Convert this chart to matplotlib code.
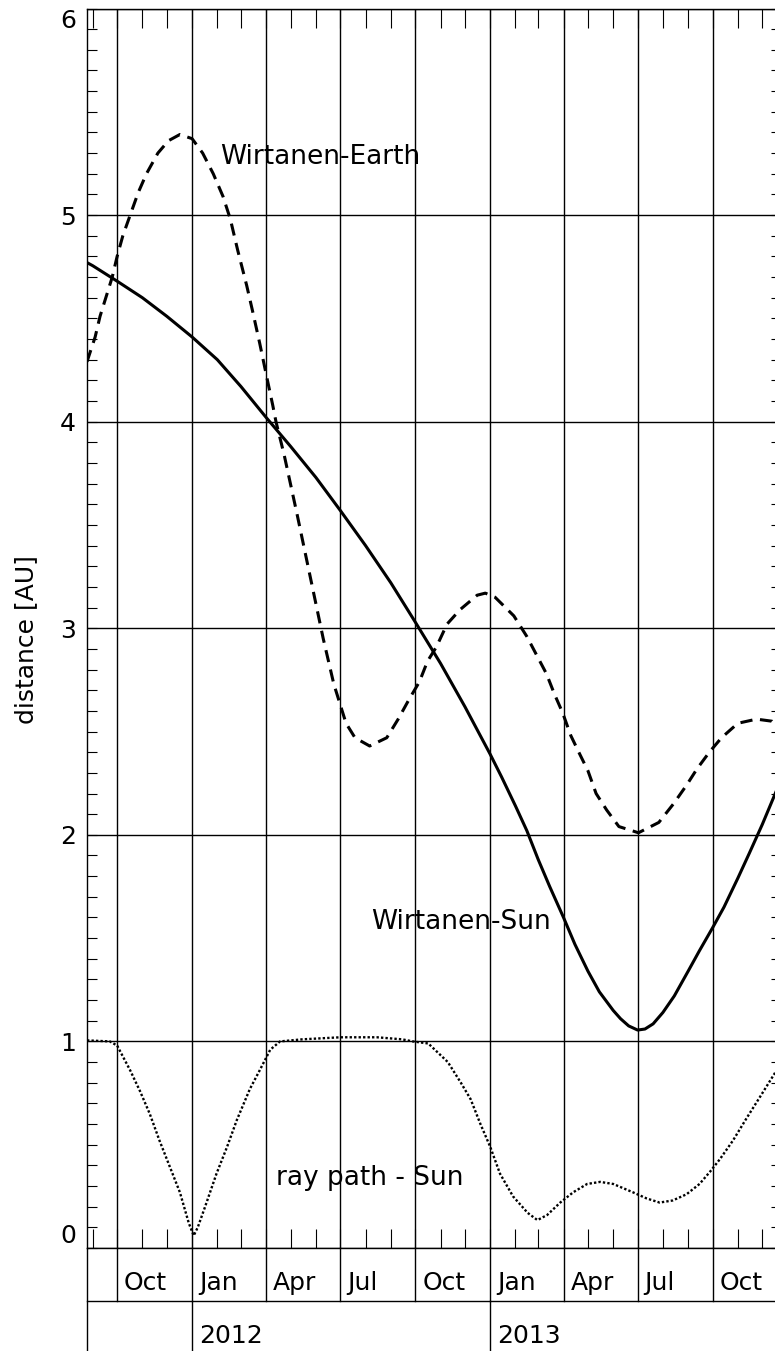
import matplotlib
matplotlib.use("Agg")
import numpy as np
import matplotlib.pyplot as plt
import matplotlib.dates as mdates
import matplotlib.transforms as mtransforms
from matplotlib.ticker import MultipleLocator

# Comet Wirtanen: distances in AU vs date
SUN_DATES = ["2011-08-25", "2011-09-01", "2011-10-01", "2011-11-01", "2011-12-01",
             "2012-01-01", "2012-02-01", "2012-03-01", "2012-04-01", "2012-05-01",
             "2012-06-01", "2012-07-01", "2012-08-01", "2012-09-01", "2012-10-01",
             "2012-11-01", "2012-12-01", "2013-01-01", "2013-01-15", "2013-02-01",
             "2013-02-15", "2013-03-01", "2013-03-15", "2013-04-01", "2013-04-15",
             "2013-05-01", "2013-05-15", "2013-06-01", "2013-06-10", "2013-06-20",
             "2013-07-01", "2013-07-10", "2013-07-20", "2013-08-01", "2013-08-15",
             "2013-09-01", "2013-09-15", "2013-10-01", "2013-10-15", "2013-11-01",
             "2013-11-15", "2013-12-01", "2013-12-18"]
SUN_DIST = [4.77, 4.755, 4.68, 4.60, 4.51,
            4.41, 4.30, 4.17, 4.02, 3.88,
            3.73, 3.57, 3.40, 3.22, 3.03,
            2.83, 2.62, 2.39, 2.28, 2.14,
            2.02, 1.88, 1.75, 1.60, 1.47,
            1.34, 1.24, 1.15, 1.11, 1.075,
            1.055, 1.06, 1.085, 1.14, 1.22,
            1.34, 1.44, 1.55, 1.65, 1.79,
            1.91, 2.05, 2.21]

EARTH_DATES = ["2011-08-25", "2011-09-04", "2011-09-10", "2011-09-25", "2011-10-01",
               "2011-10-08", "2011-10-17", "2011-10-27", "2011-11-06", "2011-11-20",
               "2011-12-03", "2011-12-17", "2012-01-01", "2012-01-14", "2012-01-27",
               "2012-02-08", "2012-02-17", "2012-02-26", "2012-03-08", "2012-03-15",
               "2012-03-24", "2012-04-02", "2012-04-09", "2012-04-13", "2012-04-23",
               "2012-05-09", "2012-05-25", "2012-06-10", "2012-06-23", "2012-07-08",
               "2012-07-19", "2012-08-06", "2012-08-27", "2012-09-10", "2012-09-24",
               "2012-10-06", "2012-10-16", "2012-10-27", "2012-11-09", "2012-11-25",
               "2012-12-16", "2012-12-26", "2013-01-07", "2013-01-30", "2013-02-15",
               "2013-02-27", "2013-03-11", "2013-03-21", "2013-03-31", "2013-04-10",
               "2013-04-21", "2013-05-01", "2013-05-11", "2013-05-24", "2013-06-08",
               "2013-07-02", "2013-07-27", "2013-08-14", "2013-08-30", "2013-09-12",
               "2013-09-27", "2013-10-12", "2013-11-01", "2013-11-24", "2013-12-13",
               "2013-12-18"]
EARTH_DIST = [4.29, 4.41, 4.51, 4.70, 4.80,
              4.90, 5.00, 5.11, 5.20, 5.30,
              5.36, 5.39, 5.37, 5.30, 5.20,
              5.09, 4.98, 4.83, 4.66, 4.54,
              4.38, 4.21, 4.08, 4.00, 3.84,
              3.55, 3.25, 2.95, 2.73, 2.54,
              2.47, 2.43, 2.47, 2.56, 2.66,
              2.74, 2.84, 2.91, 3.02, 3.09,
              3.16, 3.17, 3.15, 3.06, 2.96,
              2.87, 2.78, 2.68, 2.59, 2.48,
              2.39, 2.31, 2.20, 2.12, 2.04,
              2.01, 2.06, 2.15, 2.24, 2.32,
              2.40, 2.47, 2.54, 2.56, 2.55,
              2.53]

RAY_DATES = ["2011-08-25", "2011-09-22", "2011-10-01", "2011-10-17", "2011-10-29",
             "2011-11-10", "2011-11-22", "2011-12-05", "2011-12-17", "2011-12-28",
             "2012-01-03", "2012-01-08", "2012-01-17", "2012-01-31", "2012-02-13",
             "2012-02-25", "2012-03-12", "2012-03-24", "2012-04-06", "2012-04-18",
             "2012-05-15", "2012-07-01", "2012-08-15", "2012-09-15", "2012-09-28",
             "2012-10-17", "2012-11-10", "2012-11-26", "2012-12-08", "2012-12-20",
             "2013-01-01", "2013-01-13", "2013-01-29", "2013-02-16", "2013-02-28",
             "2013-03-12", "2013-03-28", "2013-04-13", "2013-04-30", "2013-05-16",
             "2013-06-01", "2013-06-25", "2013-07-12", "2013-07-28", "2013-08-13",
             "2013-08-30", "2013-09-15", "2013-09-28", "2013-10-10", "2013-10-26",
             "2013-11-12", "2013-11-28", "2013-12-17"]
RAY_DIST = [1.005, 1.00, 0.98, 0.86, 0.76,
            0.65, 0.52, 0.39, 0.27, 0.12,
            0.06, 0.10, 0.20, 0.36, 0.49,
            0.62, 0.77, 0.86, 0.96, 1.00,
            1.01, 1.02, 1.02, 1.01, 1.00,
            0.99, 0.90, 0.80, 0.72, 0.60,
            0.49, 0.36, 0.25, 0.17, 0.135,
            0.16, 0.22, 0.27, 0.31, 0.32,
            0.31, 0.27, 0.24, 0.22, 0.23,
            0.26, 0.31, 0.37, 0.43, 0.52,
            0.63, 0.73, 0.85]

Y_TICKS = [0, 1, 2, 3, 4, 5, 6]
QUARTER_DATES = ["2011-10-01", "2012-01-01", "2012-04-01", "2012-07-01", "2012-10-01",
                 "2013-01-01", "2013-04-01", "2013-07-01", "2013-10-01"]
QUARTER_NAMES = ["Oct", "Jan", "Apr", "Jul", "Oct", "Jan", "Apr", "Jul", "Oct"]
YEAR_DATES = ["2012-01-01", "2013-01-01"]
YEAR_NAMES = ["2012", "2013"]

X_START = "2011-08-25"
X_END = "2013-12-24"

FS = 18


def dates(lst):
    return np.array(lst, dtype="datetime64[D]")


def main():
    fig = plt.figure(figsize=(7.75, 13.51), dpi=100)
    ax = fig.add_axes([87 / 775, 103 / 1351, 694 / 775, 1239.5 / 1351])

    ax.plot(dates(SUN_DATES), SUN_DIST, color="black", lw=2.2,
            solid_joinstyle="round")
    ax.plot(dates(EARTH_DATES), EARTH_DIST, color="black", lw=2.2,
            dashes=(4.0, 2.5), dash_capstyle="butt")
    ax.plot(dates(RAY_DATES), RAY_DIST, color="black", lw=1.7,
            linestyle=(0, (1, 0.9)))

    ax.set_xlim(np.datetime64(X_START), np.datetime64(X_END))
    ax.set_ylim(0, 6)

    # ticks: months on x, 0.1 AU on y, grid on quarters / whole AU
    ax.xaxis.set_major_locator(mdates.MonthLocator(bymonth=[1, 4, 7, 10]))
    ax.xaxis.set_minor_locator(mdates.MonthLocator())
    ax.tick_params(axis="x", which="both", direction="in", length=13.7,
                   width=0.8, top=True, bottom=True, labelbottom=False)
    ax.set_yticks(Y_TICKS)
    ax.set_yticklabels([str(v) for v in Y_TICKS])
    ax.yaxis.set_minor_locator(MultipleLocator(0.1))
    ax.tick_params(axis="y", which="both", direction="in", length=7.2,
                   width=0.8, left=True, right=True, labelsize=FS, pad=8)
    labels = ax.get_yticklabels()
    labels[0].set_va("bottom")
    labels[-1].set_va("top")

    ax.grid(which="major", color="black", lw=1.0)
    for sp in ax.spines.values():
        sp.set_linewidth(1.0)

    ax.text(-61 / 694, 0.4905, "distance [AU]", transform=ax.transAxes,
            rotation=90, ha="center", va="center", fontsize=FS)

    # curve labels
    ax.text(np.datetime64("2012-02-04"), 5.28, "Wirtanen-Earth",
            fontsize=FS + 1, ha="left", va="center")
    ax.text(np.datetime64("2012-08-08"), 1.58, "Wirtanen-Sun",
            fontsize=FS + 1, ha="left", va="center")
    ax.text(np.datetime64("2012-04-13"), 0.34, "ray path - Sun",
            fontsize=FS + 1, ha="left", va="center")

    # two-row date axis below the plot
    trans = mtransforms.blended_transform_factory(ax.transData, ax.transAxes)
    row1 = -53 / 1239.5
    row2 = -0.09
    ax.plot([0, 0], [0, row2], transform=ax.transAxes, color="black",
            lw=1.0, clip_on=False)
    ax.plot([0, 1], [row1, row1], transform=ax.transAxes, color="black",
            lw=1.0, clip_on=False)
    for d, name in zip(dates(QUARTER_DATES), QUARTER_NAMES):
        ax.plot([d, d], [0, row1], transform=trans, color="black",
                lw=1.0, clip_on=False)
        ax.annotate(name, xy=(d, -42 / 1239.5), xycoords=trans,
                    xytext=(5, 0), textcoords="offset points",
                    ha="left", va="baseline", fontsize=FS)
    for d, name in zip(dates(YEAR_DATES), YEAR_NAMES):
        ax.plot([d, d], [row1, row2], transform=trans, color="black",
                lw=1.0, clip_on=False)
        ax.annotate(name, xy=(d, -95 / 1239.5), xycoords=trans,
                    xytext=(5, 0), textcoords="offset points",
                    ha="left", va="baseline", fontsize=FS)

    fig.savefig("out.png", dpi=100)


if __name__ == "__main__":
    main()
